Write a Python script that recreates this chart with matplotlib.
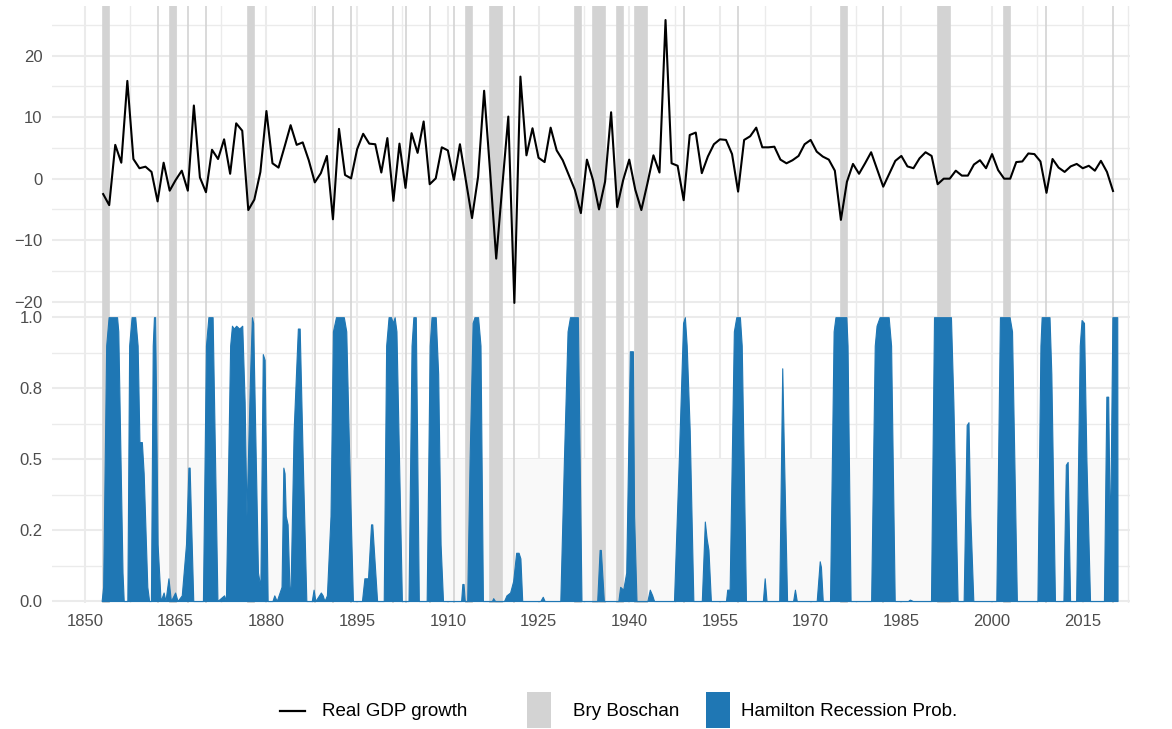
import numpy as np
import matplotlib
matplotlib.use("Agg")
import matplotlib.pyplot as plt
from matplotlib.lines import Line2D
from matplotlib.patches import Rectangle

plt.rcParams['font.family'] = ['Liberation Sans', 'DejaVu Sans']

# annual real GDP growth, percent
gdp_years = np.arange(1853, 2021)
gdp_growth = [
    -2.5, -4.3, 5.5, 2.6, 15.9, 3.2, 1.7, 1.95, 1.1, -3.7,
    2.6, -1.95, -0.2, 1.3, -1.95, 11.9, 0.2, -2.2, 4.7, 3.2,
    6.4, 0.8, 9.0, 7.8, -5.1, -3.4, 1.1, 11.0, 2.5, 1.8,
    5.2, 8.7, 5.5, 5.9, 3.0, -0.6, 0.9, 3.7, -6.6, 8.1,
    0.6, 0.05, 4.8, 7.3, 5.7, 5.6, 1.0, 6.6, -3.6, 5.7,
    -1.5, 7.4, 4.2, 9.3, -0.9, 0.05, 5.1, 4.6, -0.2, 5.6,
    -0.4, -6.4, 0.3, 14.3, 1.0, -13.0, -1.3, 10.1, -20.2, 16.6,
    3.8, 8.2, 3.4, 2.7, 8.3, 4.6, 3.0, 0.6, -1.8, -5.6,
    3.1, -0.2, -5.0, -0.5, 10.8, -4.6, -0.2, 3.1, -1.8, -5.1,
    -0.8, 3.8, 1.0, 25.8, 2.5, 2.1, -3.5, 7.1, 7.5, 0.9,
    3.6, 5.6, 6.4, 6.3, 4.0, -2.1, 6.3, 6.9, 8.3, 5.1,
    5.1, 5.2, 3.1, 2.5, 3.0, 3.7, 5.6, 6.3, 4.4, 3.6,
    3.1, 1.3, -6.7, -0.5, 2.4, 0.8, 2.5, 4.3, 1.5, -1.3,
    0.8, 2.9, 3.7, 2.0, 1.7, 3.3, 4.3, 3.7, -0.9, 0.0,
    0.0, 1.3, 0.5, 0.5, 2.3, 3.0, 1.7, 4.0, 1.4, 0.0,
    0.0, 2.7, 2.8, 4.1, 4.0, 2.8, -2.3, 3.2, 1.8, 1.1,
    2.0, 2.4, 1.7, 2.1, 1.3, 2.9, 1.1, -2.0,
]

# Bry-Boschan recession dating (peak year, trough year)
bb_peak = [1853, 1862, 1864, 1867, 1870, 1877, 1888, 1891, 1894, 1901, 1903,
           1907, 1911, 1913, 1917, 1921, 1931, 1934, 1938, 1941, 1949, 1958,
           1975, 1982, 1991, 2002, 2009, 2020]
bb_trough = [1854, 1862, 1865, 1867, 1870, 1878, 1888, 1891, 1894, 1901, 1903,
             1907, 1911, 1914, 1919, 1921, 1932, 1936, 1939, 1943, 1949, 1958,
             1976, 1982, 1993, 2003, 2009, 2020]

# Hamilton recession probability
prob_year = [
    1852.75, 1853.0, 1853.5, 1853.9, 1855.3, 1855.5, 1856.2, 1856.4,
    1857.0, 1857.3, 1857.7, 1858.3, 1858.7, 1859.0, 1859.4, 1859.7, 1860.3, 1860.6,
    1860.9, 1861.2, 1861.4, 1861.6, 1862.0, 1862.5,
    1863.0, 1863.3, 1863.8, 1864.2, 1864.9, 1865.3, 1866.0, 1866.7, 1867.1, 1867.3, 1867.9,
    1869.5, 1870.0, 1870.4, 1871.1, 1871.5, 1871.9,
    1873.0, 1873.3, 1874.0, 1874.3, 1874.6, 1875.0, 1875.5, 1876.0, 1876.4, 1876.7,
    1877.3, 1877.6, 1877.8, 1878.6, 1879.0, 1879.4, 1879.7, 1880.2,
    1881.0, 1881.3, 1881.7, 1882.5, 1882.8, 1883.0, 1883.2, 1883.5, 1883.8, 1884.0,
    1884.5, 1885.2, 1885.5, 1886.0, 1886.6,
    1887.5, 1887.8, 1888.1, 1888.7, 1889.0, 1889.3, 1889.6, 1890.0, 1890.6, 1891.0,
    1891.5, 1892.8, 1893.2, 1893.7, 1894.3,
    1895.8, 1896.2, 1896.8, 1897.3, 1897.5, 1898.3,
    1899.4, 1899.8, 1900.2, 1900.6, 1900.9, 1901.2, 1901.5, 1902.4,
    1903.5, 1904.0, 1904.3, 1904.7, 1905.2,
    1906.5, 1907.0, 1907.3, 1908.0, 1908.4, 1908.8, 1909.2,
    1912.2, 1912.4, 1912.6, 1912.8, 1913.2, 1913.6, 1914.1, 1914.4, 1915.0, 1915.4, 1915.8,
    1917.3, 1917.5, 1917.8, 1919.3, 1919.7, 1920.3, 1920.8, 1921.3, 1921.7, 1922.0, 1922.3,
    1925.3, 1925.7, 1926.0,
    1928.6, 1929.2, 1929.8, 1930.2, 1931.5, 1931.8, 1932.1,
    1934.7, 1935.1, 1935.3, 1935.8,
    1938.2, 1938.5, 1939.0, 1939.5, 1940.1, 1940.6, 1940.8, 1941.2,
    1943.0, 1943.4, 1943.8, 1944.1,
    1947.4, 1948.2, 1948.9, 1949.2, 1949.5, 1950.0, 1950.6,
    1952.0, 1952.5, 1952.8, 1953.1, 1953.5,
    1956.0, 1956.2, 1956.6, 1957.3, 1957.7, 1958.3, 1958.6, 1959.3,
    1962.1, 1962.4, 1962.7,
    1964.8, 1965.3, 1965.6, 1966.1, 1967.1, 1967.4, 1967.7,
    1971.0, 1971.5, 1971.7, 1972.0,
    1973.2, 1973.8, 1974.1, 1975.9, 1976.1, 1976.6,
    1980.0, 1980.6, 1980.9, 1981.4, 1982.9, 1983.3, 1983.9,
    1986.1, 1986.4, 1986.9,
    1989.9, 1990.4, 1993.2, 1993.6, 1994.3,
    1995.3, 1995.8, 1996.1, 1996.4, 1996.9,
    2000.7, 2001.3, 2002.9, 2003.3, 2004.1,
    2007.5, 2008.0, 2008.2, 2009.5, 2009.8, 2010.4,
    2011.8, 2012.2, 2012.5, 2012.9,
    2013.9, 2014.5, 2014.8, 2015.2, 2015.6, 2016.2,
    2018.5, 2018.9, 2019.2, 2019.5, 2019.9, 2020.7, 2020.75,
]
prob_value = [
    0.0, 0.05, 0.9, 1.0, 1.0, 0.95, 0.1, 0.0,
    0.0, 0.9, 1.0, 1.0, 0.9, 0.56, 0.56, 0.45, 0.05, 0.0,
    0.0, 0.9, 1.0, 1.0, 0.2, 0.0,
    0.03, 0.0, 0.08, 0.0, 0.03, 0.0, 0.02, 0.2, 0.47, 0.47, 0.0,
    0.0, 0.9, 1.0, 1.0, 0.5, 0.0,
    0.02, 0.0, 0.9, 0.97, 0.96, 0.97, 0.96, 0.97, 0.7, 0.3,
    0.8, 1.0, 0.98, 0.1, 0.05, 0.87, 0.85, 0.0,
    0.0, 0.02, 0.0, 0.05, 0.47, 0.45, 0.3, 0.27, 0.05, 0.05,
    0.6, 0.96, 0.96, 0.5, 0.0,
    0.0, 0.04, 0.0, 0.02, 0.03, 0.02, 0.0, 0.02, 0.3, 0.95,
    1.0, 1.0, 0.95, 0.5, 0.0,
    0.0, 0.08, 0.08, 0.27, 0.27, 0.0,
    0.0, 0.9, 1.0, 1.0, 0.98, 1.0, 0.95, 0.0,
    0.0, 0.9, 1.0, 1.0, 0.0,
    0.0, 0.9, 1.0, 1.0, 0.8, 0.2, 0.0,
    0.0, 0.06, 0.06, 0.0, 0.0, 0.5, 0.98, 1.0, 1.0, 0.9, 0.0,
    0.0, 0.01, 0.0, 0.0, 0.02, 0.03, 0.07, 0.17, 0.17, 0.15, 0.0,
    0.0, 0.015, 0.0,
    0.0, 0.5, 0.95, 1.0, 1.0, 0.5, 0.0,
    0.0, 0.18, 0.18, 0.0,
    0.0, 0.05, 0.04, 0.1, 0.88, 0.88, 0.3, 0.0,
    0.0, 0.04, 0.02, 0.0,
    0.0, 0.5, 0.98, 1.0, 0.9, 0.6, 0.0,
    0.0, 0.28, 0.22, 0.18, 0.0,
    0.0, 0.04, 0.04, 0.95, 1.0, 1.0, 0.9, 0.0,
    0.0, 0.08, 0.0,
    0.0, 0.82, 0.5, 0.0, 0.0, 0.04, 0.0,
    0.0, 0.14, 0.12, 0.0,
    0.0, 0.95, 1.0, 1.0, 0.9, 0.0,
    0.0, 0.9, 0.97, 1.0, 1.0, 0.9, 0.0,
    0.0, 0.005, 0.0,
    0.0, 1.0, 1.0, 0.7, 0.0,
    0.0, 0.62, 0.63, 0.3, 0.0,
    0.0, 1.0, 1.0, 0.95, 0.0,
    0.0, 0.9, 1.0, 1.0, 0.8, 0.0,
    0.0, 0.48, 0.49, 0.0,
    0.0, 0.9, 0.99, 0.98, 0.5, 0.0,
    0.0, 0.72, 0.72, 0.2, 1.0, 1.0, 0.0,
]

GRID = '#ebebeb'
BAND = '#d3d3d3'
BLUE = '#1f77b4'
TEXT = '#4d4d4d'
FS = 12
LEGEND_FS = 13.5

W, H = 1172, 729


def px_rect(left, top, right, bottom):
    return [left / W, 1 - bottom / H, (right - left) / W, (bottom - top) / H]


def style_axes(ax):
    for s in ax.spines.values():
        s.set_visible(False)
    ax.set_xlim(1844.54, 2022.81)
    ax.set_xticks(np.arange(1850, 2020, 15))
    ax.set_xticks(np.arange(1857.5, 2025, 15), minor=True)
    ax.grid(which='major', color=GRID, lw=1.5, zorder=0)
    ax.grid(which='minor', color=GRID, lw=1.0, zorder=0)
    ax.set_axisbelow(True)
    ax.tick_params(which='both', length=0, labelsize=FS, labelcolor=TEXT)
    ax.tick_params(axis='y', pad=7)
    ax.tick_params(axis='x', pad=8)
    for a, b in zip(bb_peak, bb_trough):
        ax.axvspan(a, b, facecolor=BAND, edgecolor=BAND, lw=1.2, zorder=1)


fig = plt.figure(figsize=(W / 100, H / 100), dpi=100)
ax_top = fig.add_axes(px_rect(52, 6, 1130, 305))
ax_bot = fig.add_axes(px_rect(52, 305, 1130, 603))

style_axes(ax_top)
ax_top.plot(gdp_years, gdp_growth, color='black', lw=1.5, zorder=3)
ax_top.set_ylim(-20.54, 28.08)
ax_top.set_yticks([-20, -10, 0, 10, 20])
ax_top.set_yticklabels(['\u221220', '\u221210', '0', '10', '20'])
ax_top.set_yticks([-15, -5, 5, 15, 25], minor=True)
ax_top.tick_params(axis='x', labelbottom=False)

style_axes(ax_bot)
ax_bot.add_patch(Rectangle((1852.75, 0), 2020.75 - 1852.75, 0.5,
                           facecolor='#f9f9f9', edgecolor='none', zorder=0.8))
ax_bot.fill_between(prob_year, 0, prob_value, facecolor=BLUE, edgecolor=BLUE,
                    lw=0.8, zorder=3)
ax_bot.set_ylim(-0.007, 1.043)
ax_bot.set_yticks([0, 0.25, 0.5, 0.75, 1.0])
ax_bot.set_yticklabels(['0.0', '0.2', '0.5', '0.8', '1.0'])
ax_bot.set_yticks([0.125, 0.375, 0.625, 0.875], minor=True)

# legend along the bottom
fy = 1 - 711 / H
fig.add_artist(Line2D([280 / W, 305 / W], [fy, fy], color='black', lw=1.6))
fig.text(322 / W, fy, 'Real GDP growth', fontsize=LEGEND_FS, va='center', ha='left')
fig.add_artist(Rectangle((527 / W, 1 - 728 / H), 24 / W, 36 / H,
                         facecolor=BAND, edgecolor='none'))
fig.text(573 / W, fy, 'Bry Boschan', fontsize=LEGEND_FS, va='center', ha='left')
fig.add_artist(Rectangle((706 / W, 1 - 728 / H), 24 / W, 36 / H,
                         facecolor=BLUE, edgecolor='none'))
fig.text(741 / W, fy, 'Hamilton Recession Prob.', fontsize=LEGEND_FS,
         va='center', ha='left')

fig.savefig('out.png', dpi=100, facecolor='white')
